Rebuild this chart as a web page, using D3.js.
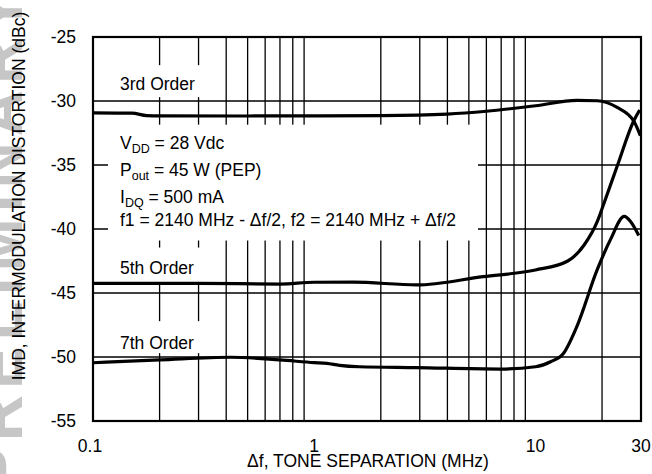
<!DOCTYPE html>
<html>
<head>
<meta charset="utf-8">
<script src="https://cdn.jsdelivr.net/npm/d3@7"></script>
<style>
  body { margin: 0; background: #fff; }
  svg text { font-family: "Liberation Sans", Arial, sans-serif; fill: #000; }
</style>
</head>
<body>
<svg id="chart" width="652" height="474"></svg>
<script>
// tone separation (MHz) and IMD (dBc)
var thirdF  = [0.1, 0.15, 0.175, 0.2, 0.5, 1, 2, 4, 6, 10, 15.4, 19, 23.4, 27.9, 29.8];
var thirdDb = [-30.92, -30.95, -31.14, -31.16, -31.17, -31.16, -31.14, -31.02, -30.8, -30.37, -29.95, -29.98, -30.5, -31.6, -32.7];

var fifthF  = [0.1, 0.3, 0.7, 1, 1.5, 2.9, 5.8, 10, 14, 16.6, 19, 20.3, 23.4, 27.9, 29.6];
var fifthDb = [-44.25, -44.25, -44.3, -44.16, -44.15, -44.37, -43.72, -43.2, -42.5, -41.25, -39.45, -38.1, -35.1, -31.5, -30.7];

var seventhF  = [0.1, 0.2, 0.42, 0.7, 1, 1.14, 1.3, 1.6, 2.9, 6.9, 10, 11.7, 13.4, 15.4, 19, 21.8, 25.2, 27, 29.3];
var seventhDb = [-50.45, -50.23, -50.02, -50.23, -50.44, -50.5, -50.65, -50.76, -50.83, -50.94, -50.76, -50.37, -49.7, -47.6, -43.2, -40.85, -39.02, -39.45, -40.5];

var xTicks = [0.1, 1, 10, 30];
var xTickLabels = ["0.1", "1", "10", "30"];
var yTicks = [-25, -30, -35, -40, -45, -50, -55];
var xGrid = [0.2, 0.3, 0.4, 0.5, 0.6, 0.7, 0.8, 0.9, 2, 3, 4, 5, 6, 7, 8, 9, 20];
var yGrid = [-30, -35, -40, -45, -50];

var curveLabels = ["3rd Order", "5th Order", "7th Order"];

var svg = d3.select("#chart");
var mLeft = 93, mRight = 641, mTop = 37, mBottom = 421;

var x = d3.scaleLog().domain([0.1, 30]).range([mLeft, mRight]);
var y = d3.scaleLinear().domain([-55, -25]).range([mBottom, mTop]);

svg.append("rect").attr("width", 652).attr("height", 474).attr("fill", "#fff");

// gray watermark on the left edge, mostly cut off
svg.append("text")
  .attr("transform", "translate(22,490) rotate(-90)")
  .style("font-size", "64px")
  .style("font-weight", "bold")
  .style("letter-spacing", "6px")
  .style("fill", "#c6c6c6")
  .text("PRELIMINARY");

// grid
svg.append("g").selectAll("line")
  .data(xGrid)
  .enter()
  .append("line")
  .attr("x1", function(d) { return x(d); })
  .attr("x2", function(d) { return x(d); })
  .attr("y1", mTop)
  .attr("y2", mBottom)
  .attr("stroke", "#000")
  .attr("stroke-width", 1.3);

svg.append("g").selectAll("line")
  .data(yGrid)
  .enter()
  .append("line")
  .attr("x1", mLeft)
  .attr("x2", mRight)
  .attr("y1", function(d) { return y(d); })
  .attr("y2", function(d) { return y(d); })
  .attr("stroke", "#000")
  .attr("stroke-width", 1.3);

// white boxes behind the labels cut the grid like the original
var masks = [
  [x(0.1) + 16, y(-27.2), 100, y(-29.7) - y(-27.2)],
  [x(0.1) + 15, y(-31.85), x(5.5) - x(0.1) - 15, y(-40.9) - y(-31.85)],
  [x(0.1) + 16, y(-41.45), 100, y(-44.2) - y(-41.45)],
  [x(0.1) + 16, y(-47.2), 100, y(-49.7) - y(-47.2)]
];
svg.append("g").selectAll("rect")
  .data(masks)
  .enter()
  .append("rect")
  .attr("x", function(d) { return d[0]; })
  .attr("y", function(d) { return d[1]; })
  .attr("width", function(d) { return d[2]; })
  .attr("height", function(d) { return d[3]; })
  .attr("fill", "#fff");

// frame
svg.append("rect")
  .attr("x", mLeft).attr("y", mTop)
  .attr("width", mRight - mLeft).attr("height", mBottom - mTop)
  .attr("fill", "none")
  .attr("stroke", "#000")
  .attr("stroke-width", 2.2);

// curves
var line = d3.line()
  .x(function(d) { return x(d[0]); })
  .y(function(d) { return y(d[1]); })
  .curve(d3.curveMonotoneX);

[[thirdF, thirdDb], [fifthF, fifthDb], [seventhF, seventhDb]].forEach(function(s) {
  svg.append("path")
    .datum(d3.zip(s[0], s[1]))
    .attr("d", line)
    .attr("fill", "none")
    .attr("stroke", "#000")
    .attr("stroke-width", 3.2)
    .attr("stroke-linejoin", "round");
});

// tick labels
svg.append("g").selectAll("text")
  .data(yTicks)
  .enter()
  .append("text")
  .attr("x", 76)
  .attr("y", function(d) { return y(d) + 6; })
  .attr("text-anchor", "end")
  .style("font-size", "17.5px")
  .text(function(d) { return d; });

svg.append("g").selectAll("text")
  .data(xTicks)
  .enter()
  .append("text")
  .attr("x", function(d, i) { return x(d) - (i == 0 ? 3 : 0); })
  .attr("y", 452)
  .attr("text-anchor", "middle")
  .style("font-size", "17.5px")
  .text(function(d, i) { return xTickLabels[i]; });

// axis titles
svg.append("text")
  .attr("transform", "translate(25,196) rotate(-90)")
  .attr("text-anchor", "middle")
  .style("font-size", "17.5px")
  .text("IMD, INTERMODULATION DISTORTION (dBc)");

svg.append("text")
  .attr("x", 368)
  .attr("y", 467)
  .attr("text-anchor", "middle")
  .style("font-size", "17.5px")
  .text("\u0394f, TONE SEPARATION (MHz)");

// curve labels
var labelY = [90, 274, 349];
svg.append("g").selectAll("text")
  .data(curveLabels)
  .enter()
  .append("text")
  .attr("x", 120)
  .attr("y", function(d, i) { return labelY[i]; })
  .style("font-size", "17.5px")
  .text(function(d) { return d; });

// test conditions
var cond = svg.append("g").style("font-size", "17.5px");
function subLine(yy, main, sub, rest) {
  var t = cond.append("text").attr("x", 120).attr("y", yy);
  t.append("tspan").text(main);
  t.append("tspan").attr("dy", 4).style("font-size", "12.5px").text(sub);
  t.append("tspan").attr("dy", -4).text(rest);
}
subLine(149, "V", "DD", " = 28 Vdc");
subLine(176, "P", "out", " = 45 W (PEP)");
subLine(203, "I", "DQ", " = 500 mA");
cond.append("text").attr("x", 120).attr("y", 226)
  .text("f1 = 2140 MHz - \u0394f/2, f2 = 2140 MHz + \u0394f/2");
</script>
</body>
</html>
